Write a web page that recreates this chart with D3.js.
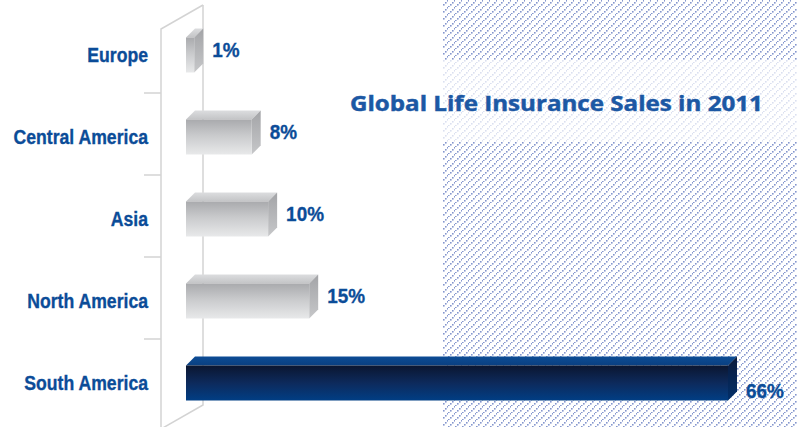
<!DOCTYPE html>
<html>
<head>
<meta charset="utf-8">
<script src="https://cdn.jsdelivr.net/npm/d3@7/dist/d3.min.js"></script>
<style>
  html, body { margin: 0; padding: 0; background: #fff; }
  svg { display: block; }
</style>
</head>
<body>
<svg id="chart" width="797" height="427"></svg>
<script>
// Regional share of global life insurance sales, 2011 (%)
const regions = ["Europe", "Central America", "Asia", "North America", "South America"];
const shares = [1, 8, 10, 15, 66];
const shareLabels = ["1%", "8%", "10%", "15%", "66%"];
const highlighted = ["South America"];
const titleText = "Global Life Insurance Sales in 2011";

const W = 797, H = 427;
const svg = d3.select("#chart");
const defs = svg.append("defs");

// dotted diagonal hatch: small square dots stepping up and to the right
function dotHatch(id, color) {
  const p = defs.append("pattern")
    .attr("id", id).attr("patternUnits", "userSpaceOnUse")
    .attr("width", 7).attr("height", 7);
  [0, 2, 4, 6].forEach(k => {
    p.append("rect").attr("x", k).attr("y", 6 - k)
      .attr("width", 1.6).attr("height", 1.6).attr("fill", color);
  });
}
dotHatch("hatch", "#8597ce");
dotHatch("hatchLight", "#dbe0f0");

function vGrad(id, stops) {
  const g = defs.append("linearGradient").attr("id", id)
    .attr("x1", 0).attr("y1", 0).attr("x2", 0).attr("y2", 1);
  stops.forEach(([o, c]) => g.append("stop").attr("offset", o).attr("stop-color", c));
}
vGrad("greyFront", [[0, "#a9aaad"], [0.45, "#c9cacc"], [1, "#e8e9ea"]]);
vGrad("greyTop", [[0, "#dcdddf"], [1, "#c3c4c6"]]);
vGrad("greySide", [[0, "#a3a4a7"], [1, "#c6c7c9"]]);
vGrad("navyFront", [[0, "#0b1630"], [0.5, "#0d2a5c"], [1, "#013e84"]]);
vGrad("navyTop", [[0, "#0c4c95"], [1, "#0a3f80"]]);
vGrad("navySide", [[0, "#0a1a3c"], [1, "#022f6a"]]);

// hatched panel with a lighter band behind the title
const panelX = 443;
svg.append("rect").attr("x", panelX).attr("y", 0)
  .attr("width", W - panelX).attr("height", H).attr("fill", "url(#hatch)");
svg.append("rect").attr("x", panelX).attr("y", 60)
  .attr("width", W - panelX).attr("height", 82).attr("fill", "#fff");
svg.append("rect").attr("x", panelX).attr("y", 60)
  .attr("width", W - panelX).attr("height", 82).attr("fill", "url(#hatchLight)");

// scales
const x0 = 186;
const x = d3.scaleLinear().domain([0, 66]).range([0, 542]);
const y = d3.scalePoint().domain(regions).range([14, 424]).padding(0.5);
const step = y.step();
const barH = 35, depth = 9;

// frame drawn as an open 3D box
const frameColor = "#d3d3d3";
const fx = 161, bx = 203;
const frame = svg.append("g").attr("fill", "none")
  .attr("stroke", frameColor).attr("stroke-width", 1.5);
frame.append("path").attr("d", `M${bx},5 L${bx},405 L${fx},429`);
frame.append("path").attr("d", `M${fx},429 L${fx},29 L${bx},5`);
regions.slice(1).forEach(r => {
  const yy = y(r) - step / 2 - 3;
  frame.append("line").attr("x1", 144).attr("x2", fx).attr("y1", yy).attr("y2", yy);
});

// bars
const bars = svg.append("g");
regions.forEach((r, i) => {
  const w = x(shares[i]);
  const top = y(r) - barH / 2;
  const hi = highlighted.includes(r);
  const g = bars.append("g");
  g.append("path")
    .attr("d", `M${x0},${top} L${x0 + depth},${top - depth} L${x0 + w + depth},${top - depth} L${x0 + w},${top} Z`)
    .attr("fill", hi ? "url(#navyTop)" : "url(#greyTop)");
  g.append("path")
    .attr("d", `M${x0 + w},${top} L${x0 + w + depth},${top - depth} L${x0 + w + depth},${top + barH - depth} L${x0 + w},${top + barH} Z`)
    .attr("fill", hi ? "url(#navySide)" : "url(#greySide)");
  g.append("rect").attr("x", x0).attr("y", top).attr("width", w).attr("height", barH)
    .attr("fill", hi ? "url(#navyFront)" : "url(#greyFront)");
});

const labelColor = "#0b4c98";
const font = "'Liberation Sans', Arial, sans-serif";

// category labels
regions.forEach(r => {
  svg.append("g").attr("transform", `translate(148,${y(r)}) scale(0.86,1)`)
    .append("text")
    .attr("text-anchor", "end").attr("dominant-baseline", "central")
    .attr("font-family", font).attr("font-weight", 700).attr("font-size", 20.5)
    .attr("fill", labelColor).attr("stroke", labelColor).attr("stroke-width", 0.35)
    .text(r);
});

// value labels
regions.forEach((r, i) => {
  const hi = highlighted.includes(r);
  const lx = x0 + x(shares[i]) + depth + 9;
  const ly = y(r) + (hi ? 7.5 : -5.5);
  svg.append("g").attr("transform", `translate(${lx},${ly}) scale(0.9,1)`)
    .append("text")
    .attr("dominant-baseline", "central")
    .attr("font-family", font).attr("font-weight", 700).attr("font-size", 21)
    .attr("fill", labelColor).attr("stroke", labelColor).attr("stroke-width", 0.35)
    .text(shareLabels[i]);
});

// title, stretched horizontally to span its slot
const titleG = svg.append("g");
const title = titleG.append("text")
  .attr("x", 0).attr("y", 0)
  .attr("font-family", "'Open Sans', Lato, sans-serif").attr("font-weight", 700)
  .attr("font-size", 21).attr("fill", "#1c58a4")
  .attr("stroke", "#1c58a4").attr("stroke-width", 0.45)
  .text(titleText);
const tw = title.node().getComputedTextLength();
titleG.attr("transform", `translate(350,111) scale(${413 / tw},1)`);
</script>
</body>
</html>
